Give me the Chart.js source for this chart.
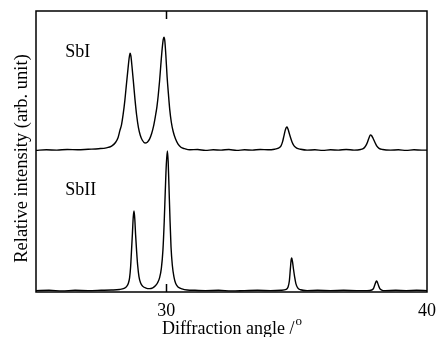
<!DOCTYPE html>
<html>
<head>
<meta charset="utf-8">
<script src="https://cdn.jsdelivr.net/npm/chart.js@4/dist/chart.umd.min.js"></script>
<style>
html,body{margin:0;padding:0;background:#fff;}
#wrap{width:437px;height:337px;position:relative;}
</style>
</head>
<body>
<div id="wrap"><canvas id="c" width="437" height="337"></canvas></div>
<script>
// ---- data ----
const sbIAngle = [25.0,25.4,25.8,26.2,26.6,27.0,27.4,27.7,27.9,28.05,28.15,28.22,28.28,28.34,28.41,28.47,28.53,28.57,28.61,28.64,28.68,28.74,28.80,28.86,28.93,29.00,29.08,29.18,29.27,29.36,29.44,29.51,29.58,29.64,29.69,29.74,29.79,29.84,29.88,29.91,29.94,29.98,30.03,30.08,30.13,30.19,30.26,30.35,30.45,30.56,30.7,30.9,31.2,31.5,31.8,32.1,32.4,32.7,33.0,33.3,33.6,33.9,34.15,34.3,34.4,34.46,34.51,34.56,34.6,34.63,34.67,34.72,34.77,34.83,34.9,35.0,35.15,35.4,35.7,36.0,36.3,36.6,36.9,37.2,37.45,37.58,37.66,37.72,37.78,37.83,37.87,37.93,38.0,38.07,38.16,38.3,38.6,38.9,39.2,39.5,39.8,40.0];
const sbIIntensity = [50.4,50.6,50.5,50.7,50.6,50.8,51.0,51.3,51.9,53.2,55.0,57.5,59.5,63.0,68.3,74.0,79.5,83.0,85.0,84.0,80.5,74.5,68.3,63.0,58.5,55.8,54.0,53.0,53.3,54.5,56.5,59.0,62.5,66.0,70.0,75.0,81.0,86.5,89.8,90.7,89.5,84.5,76.5,70.5,65.0,60.5,57.2,54.5,52.6,51.5,51.0,50.6,50.7,50.4,50.6,50.5,50.7,50.4,50.6,50.5,50.7,50.6,50.8,51.2,52.0,53.5,55.5,57.5,58.5,58.7,57.9,56.3,54.8,53.2,52.0,51.2,50.8,50.5,50.6,50.4,50.6,50.5,50.7,50.5,50.7,51.2,52.2,53.4,55.0,55.9,55.7,54.7,53.3,52.0,51.1,50.7,50.5,50.6,50.4,50.6,50.5,50.5];

const sbIIAngle = [25.0,25.5,26.0,26.5,27.0,27.5,27.9,28.2,28.38,28.48,28.54,28.59,28.63,28.66,28.70,28.73,28.76,28.79,28.82,28.86,28.9,28.95,29.01,29.1,29.22,29.35,29.48,29.58,29.66,29.74,29.81,29.87,29.92,29.96,30.0,30.04,30.07,30.1,30.14,30.18,30.23,30.29,30.36,30.45,30.6,30.8,31.1,31.5,32.0,32.5,33.0,33.5,34.0,34.4,34.6,34.67,34.72,34.76,34.79,34.81,34.84,34.88,34.92,34.97,35.04,35.15,35.4,35.8,36.3,36.8,37.3,37.7,37.88,37.95,38.0,38.04,38.07,38.1,38.14,38.19,38.26,38.4,38.8,39.2,39.6,40.0];
const sbIIIntensity = [0.5,0.6,0.4,0.6,0.5,0.6,0.7,0.9,1.3,2.0,3.0,5.0,9.0,14.0,21.0,26.5,28.8,26.0,20.5,14.5,9.5,5.5,3.3,2.0,1.4,1.2,1.5,2.2,3.2,5.0,8.5,15.0,25.3,36.0,45.5,50.2,46.5,38.0,26.0,16.0,9.5,5.5,3.0,1.8,1.1,0.7,0.6,0.5,0.6,0.4,0.5,0.6,0.5,0.6,0.9,1.8,4.0,8.5,11.5,12.1,10.8,8.0,5.5,3.0,1.5,0.8,0.5,0.6,0.5,0.6,0.5,0.5,0.7,1.3,2.6,3.6,3.9,3.4,2.3,1.2,0.7,0.5,0.6,0.5,0.6,0.5];

const xTickValues = [30, 40];
const seriesLabels = ['SbI', 'SbII'];
const xTitle = 'Diffraction angle /';
const xTitleSup = 'o';
const yTitle = 'Relative intensity (arb. unit)';

const FONT = '"Liberation Serif", "Times New Roman", serif';

function toPoints(xs, ys){ return xs.map((x,i)=>({x:x, y:ys[i]})); }

const decor = {
  id: 'decor',
  afterDraw(chart){
    const ctx = chart.ctx;
    const a = chart.chartArea;
    const xs = chart.scales.x, ys = chart.scales.y;
    ctx.save();
    ctx.strokeStyle = '#000';
    ctx.lineWidth = 1.5;
    ctx.strokeRect(a.left, a.top, a.right - a.left, a.bottom - a.top);
    // inward ticks
    xTickValues.forEach(v=>{
      const px = Math.round(xs.getPixelForValue(v)) + 0.5;
      if (px < a.right - 2){
        ctx.beginPath();
        ctx.moveTo(px, a.top); ctx.lineTo(px, a.top + 8);
        ctx.moveTo(px, a.bottom); ctx.lineTo(px, a.bottom - 8);
        ctx.stroke();
      }
    });
    // series labels
    ctx.fillStyle = '#000';
    ctx.font = '18px ' + FONT;
    ctx.textAlign = 'left';
    ctx.textBaseline = 'alphabetic';
    ctx.fillText(seriesLabels[0], xs.getPixelForValue(26.12), ys.getPixelForValue(83.7));
    ctx.fillText(seriesLabels[1], xs.getPixelForValue(26.12), ys.getPixelForValue(34.5));
    // x title with superscript
    ctx.font = '18px ' + FONT;
    const w1 = ctx.measureText(xTitle).width;
    ctx.font = '13px ' + FONT;
    const w2 = ctx.measureText(xTitleSup).width;
    const cx = (a.left + a.right) / 2;
    const start = cx - (w1 + w2) / 2;
    const base = 334;
    ctx.font = '18px ' + FONT;
    ctx.fillText(xTitle, start, base);
    ctx.font = '13px ' + FONT;
    ctx.fillText(xTitleSup, start + w1 + 1, base - 9);
    // y title
    ctx.font = '18.5px ' + FONT;
    ctx.translate(22, 158.5);
    ctx.rotate(-Math.PI / 2);
    ctx.textAlign = 'center';
    ctx.textBaseline = 'middle';
    ctx.fillText(yTitle, 0, 0);
    ctx.restore();
  }
};

new Chart(document.getElementById('c'), {
  type: 'line',
  data: {
    datasets: [
      { label: seriesLabels[0], data: toPoints(sbIAngle, sbIIntensity), borderColor: '#000', borderWidth: 1.4, pointRadius: 0, cubicInterpolationMode: 'monotone', fill: false },
      { label: seriesLabels[1], data: toPoints(sbIIAngle, sbIIIntensity), borderColor: '#000', borderWidth: 1.4, pointRadius: 0, cubicInterpolationMode: 'monotone', fill: false }
    ]
  },
  options: {
    responsive: false,
    animation: false,
    devicePixelRatio: 1,
    layout: { padding: { top: 11, right: 10, left: 0, bottom: 0 } },
    plugins: { legend: { display: false }, tooltip: { enabled: false } },
    scales: {
      x: {
        type: 'linear', min: 25, max: 40,
        afterBuildTicks(s){ s.ticks = xTickValues.map(v=>({value:v})); },
        afterFit(s){ s.height = 45; s.paddingLeft = 0; s.paddingRight = 0; },
        grid: { display: false, drawTicks: false },
        border: { display: false },
        ticks: { color: '#000', font: { family: FONT, size: 18 }, padding: 8, maxRotation: 0, autoSkip: false },
        title: { display: false }
      },
      y: {
        type: 'linear', min: 0, max: 100,
        afterFit(s){ s.width = 36; s.paddingTop = 0; s.paddingBottom = 0; },
        grid: { display: false, drawTicks: false },
        border: { display: false },
        ticks: { display: false },
        title: { display: false }
      }
    }
  },
  plugins: [decor]
});
</script>
</body>
</html>
